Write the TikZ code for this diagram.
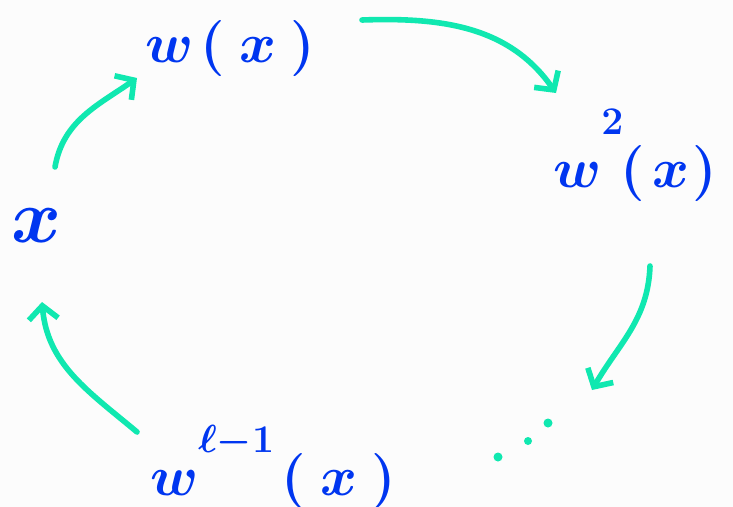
\RequirePackage{fix-cm}
\documentclass[tikz,border=0pt]{standalone}
\usepackage{amsmath}
\usetikzlibrary{arrows.meta}
\definecolor{inkblue}{HTML}{0036F0}
\definecolor{inkteal}{HTML}{10E8B0}
\definecolor{paper}{HTML}{FCFCFC}
\newcommand{\hiexp}[2]{^{\raisebox{#1}{$\scriptstyle #2$}}}
\begin{document}
\begin{tikzpicture}[x=0.75pt,y=-0.75pt,
  lbl/.style={text=inkblue, inner sep=0pt, font=\fontsize{42}{48}\selectfont\boldmath},
  flow/.style={draw=inkteal, line width=4.2pt, line cap=round,
    -{Straight Barb[length=10pt,width=22pt,line width=4.2pt]}}]
\fill[paper] (0,0) rectangle (733,507);
\useasboundingbox (0,0) rectangle (733,507);
% labels
\node[lbl, anchor=base, font=\fontsize{57}{63}\selectfont\boldmath] (x) at (37,242) {$x$};
\node[lbl, anchor=base west] (wx) at (145,62) {$w\mkern2mu(\mkern4mu x\mkern4mu)$};
\node[lbl, anchor=base west] (w2) at (553,187) {$w\hiexp{24pt}{2}\mkern-1mu(\mkern2mu x\mkern1mu)$};
\node[lbl, anchor=base west] (wl) at (150,495) {$w\hiexp{17pt}{\ell-1}\mkern2mu(\mkern4mu x\mkern4mu)$};
% arrow end points
\coordinate (a1s) at (55,167);  \coordinate (a1e) at (137,78);
\coordinate (a2s) at (362,20);  \coordinate (a2e) at (556,93);
\coordinate (a3s) at (650,266); \coordinate (a3e) at (592,390);
\coordinate (a4s) at (137,432); \coordinate (a4e) at (42,302);
\draw[flow] (a1s) to[out=80,in=215] (a1e);
\draw[flow] (a2s) to[out=2,in=125] (a2e);
\draw[flow] (a3s) to[out=-92,in=60] (a3e);
\draw[flow] (a4s) to[out=140,in=-85] (a4e);
% dots
\fill[inkteal] (498,457) circle (4.5) (528,441) circle (4) (548,423) circle (4.5);
\end{tikzpicture}
\end{document}
